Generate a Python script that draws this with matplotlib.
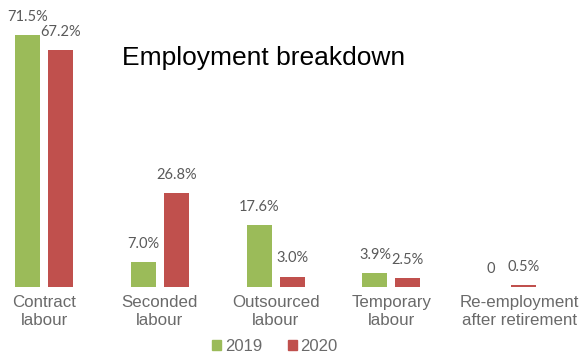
import matplotlib.pyplot as plt
import numpy as np
from matplotlib.patches import Patch
from matplotlib.transforms import ScaledTranslation

# employment types and shares (%) per year
categories = ['Contract\nlabour', 'Seconded\nlabour', 'Outsourced\nlabour',
              'Temporary\nlabour', 'Re-employment\nafter retirement']
share_2019 = [71.5, 7.0, 17.6, 3.9, 0.0]
share_2020 = [67.2, 26.8, 3.0, 2.5, 0.5]
labels_2019 = ['71.5%', '7.0%', '17.6%', '3.9%', '0']
labels_2020 = ['67.2%', '26.8%', '3.0%', '2.5%', '0.5%']

green = '#9bbb59'
red = '#c0504d'
grey = '#5a5a5a'

fig = plt.figure(figsize=(5.79, 3.54), dpi=100)
ax = fig.add_axes([0, 0.189, 1, 0.811])

x = np.arange(len(categories))
w = 0.216
off = 0.142
b1 = ax.bar(x - off, share_2019, w, color=green)
b2 = ax.bar(x + off, share_2020, w, color=red)

ax.bar_label(b1, labels=labels_2019, padding=8, color=grey,
             fontsize=10.5, family='Lato')
ax.bar_label(b2, labels=labels_2020, padding=8, color=grey,
             fontsize=10.5, family='Lato')

ax.set_xlim(-0.38, 4.62)
ax.set_ylim(0, 81.5)
ax.set_xticks(x)
ax.set_xticklabels(categories, fontsize=12.2, color='#6a6a6a',
                   family='Liberation Sans', linespacing=1.2)
ax.tick_params(axis='x', length=0, pad=6)
ax.set_yticks([])
for s in ax.spines.values():
    s.set_visible(False)

# last label sits a bit to the right, against the edge
last = ax.get_xticklabels()[-1]
last.set_transform(last.get_transform() + ScaledTranslation(0.12, 0, fig.dpi_scale_trans))

fig.text(0.456, 0.836, 'Employment breakdown', ha='center', va='center',
         fontsize=19, family='Liberation Sans', color='black')

handles = [Patch(color=green, label='2019'), Patch(color=red, label='2020')]
leg = fig.legend(handles=handles, loc='center', bbox_to_anchor=(0.475, 0.022),
                 ncol=2, frameon=False, handlelength=0.54, handleheight=0.54,
                 handletextpad=0.24, columnspacing=1.5, borderpad=0,
                 prop={'family': 'Liberation Sans', 'size': 12})
for t in leg.get_texts():
    t.set_color('#6a6a6a')

fig.savefig('out.png', dpi=100)
